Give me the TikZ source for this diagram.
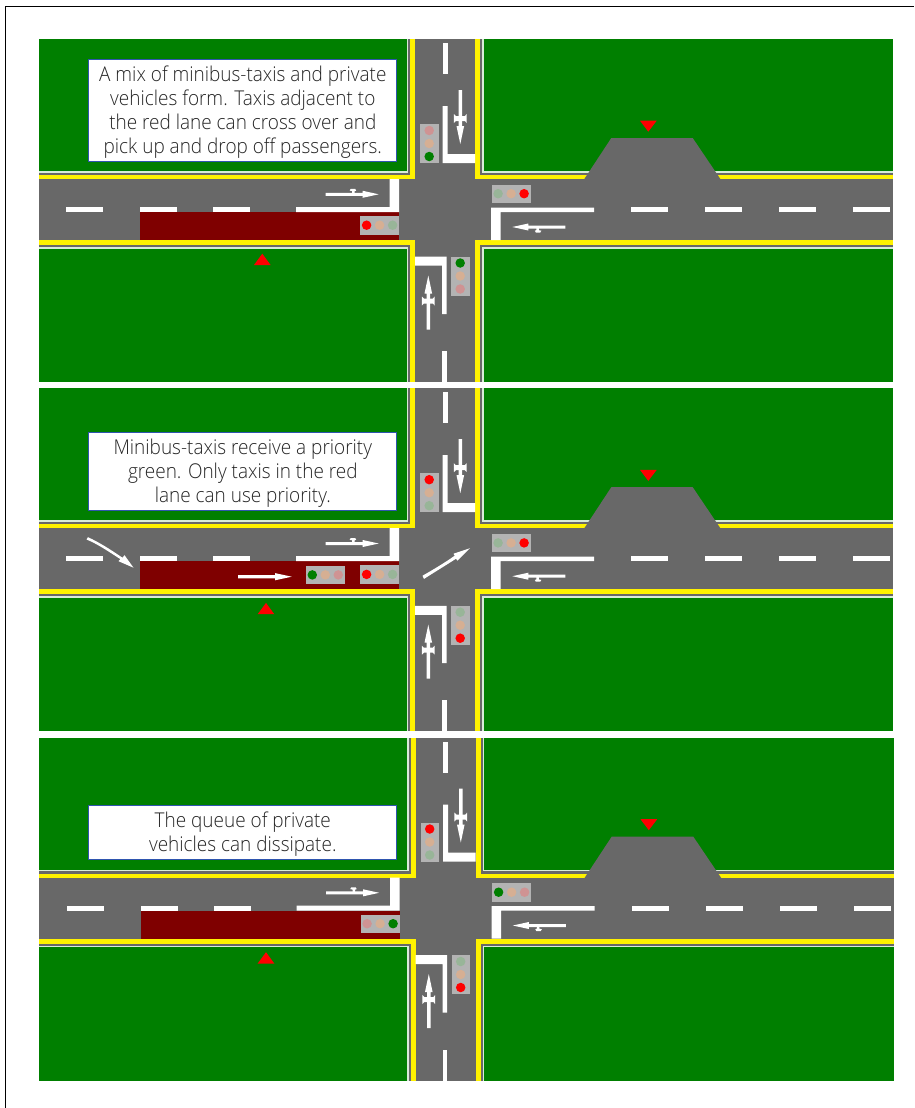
\documentclass[tikz,border=0pt]{standalone}
\usepackage{fontspec}
\setmainfont{Open Sans Light}[FakeStretch=0.93]
\usetikzlibrary{positioning,arrows.meta}
\definecolor{roadgray}{HTML}{686868}
\definecolor{verge}{HTML}{007F00}
\definecolor{buslane}{HTML}{7F0000}
\definecolor{dimred}{HTML}{CF9393}
\definecolor{dimamber}{HTML}{D6AF93}
\definecolor{dimgreen}{HTML}{98B598}
\definecolor{signalbox}{HTML}{B3B3B3}
\definecolor{notice}{HTML}{2F55AF}
\tikzset{
  infobox/.style={draw=notice,line width=0.8pt,fill=white,minimum width=308pt,inner sep=0pt,align=center,text=black!85,font=\fontsize{20.4}{24}\selectfont},
  lamp/.style={circle,fill=#1,inner sep=0pt,minimum size=9.5pt},
  curb/.style={fill=yellow},
  paint/.style={fill=white},
  marker/.style={fill=red}
}
\newcommand{\notetop}{\rule{0pt}{19pt}}
% lane arrow with a small side mark, drawn towards +x
\newcommand{\turnarrow}{%
  \fill[white] (0,-1.5) -- (37,-1.5) -- (37,-3.5) -- (53,0) -- (37,3.5) -- (37,1.5) -- (0,1.5) -- cycle;
  \fill[white] (26.5,-1) -- (26.5,-3.2) -- (24,-3.7) -- (25,-5.5) -- (29.5,-5.5) -- (30.5,-3.7) -- (29,-3.2) -- (29,-1) -- cycle;
}
% lane arrow with marks on both sides
\newcommand{\crossarrow}{%
  \fill[white] (0,-1.8) -- (36,-1.8) -- (36,-3.8) -- (54,0) -- (36,3.8) -- (36,1.8) -- (0,1.8) -- cycle;
  \fill[white] (24,-6.4) -- (26,-4.5) -- (26,4.5) -- (24,6.4) -- (33,6.4) -- (31,4.5) -- (31,-4.5) -- (33,-6.4) -- cycle;
}
% signal heads, one colour per lamp
\newcommand{\signalv}[5]{%
  \fill[signalbox] (#1,#2) rectangle ++(18.5,39);
  \node[lamp=#3] at (#1+9.2,#2+6.5) {};
  \node[lamp=#4] at (#1+9.2,#2+19.5) {};
  \node[lamp=#5] at (#1+9.2,#2+32.5) {};
}
\newcommand{\signalh}[5]{%
  \fill[signalbox] (#1,#2) rectangle ++(39,18.5);
  \node[lamp=#3] at (#1+6.6,#2+9.2) {};
  \node[lamp=#4] at (#1+19.6,#2+9.2) {};
  \node[lamp=#5] at (#1+32.6,#2+9.2) {};
}
% one junction, drawn at the position of the top panel; #1 = x of the lane marker
\newcommand{\junction}[1]{%
  \fill[roadgray] (38.5,39) rectangle (893,382);
  % kerbs
  \fill[curb] (38.5,39) rectangle (415,179);
  \fill[curb] (475,39) rectangle (893,179);
  \fill[curb] (38.5,240) rectangle (415,382);
  \fill[curb] (475,240) rectangle (893,382);
  % verges
  \fill[roadgray] (38.5,39) rectangle (410,175);
  \fill[roadgray] (480,39) rectangle (893,175);
  \fill[roadgray] (38.5,245) rectangle (410,382);
  \fill[roadgray] (480,245) rectangle (893,382);
  \fill[white!85!verge] (38.5,39) rectangle (408,172.5);
  \fill[white!85!verge] (482,39) rectangle (893,172.5);
  \fill[white!85!verge] (38.5,247) rectangle (408,382);
  \fill[white!85!verge] (482,247) rectangle (893,382);
  \fill[verge] (38.5,39) rectangle (406.5,171);
  \fill[verge] (483.5,39) rectangle (893,171);
  \fill[verge] (38.5,248.5) rectangle (406.5,382);
  \fill[verge] (483.5,248.5) rectangle (893,382);
  % bus lane and bay
  \fill[buslane] (140,212) rectangle (399,240);
  \fill[roadgray] (611.3,138) -- (692.7,138) -- (720.7,179.5) -- (584,179.5) -- cycle;
  \fill[marker] (#1-8.3,265) -- (#1,253.7) -- (#1+8.3,265) -- cycle;
  \fill[marker] (640,120.7) -- (656.7,120.7) -- (648.3,131.7) -- cycle;
  % road markings
  \foreach \x in {66,140,213,631,705,779,853} \fill[paint] (\x,207) rectangle ++(37,5);
  \fill[paint] (296,207) -- (389.5,207) -- (389.5,179) -- (399,179) -- (399,212) -- (296,212) -- cycle;
  \fill[paint] (594,207.5) -- (491,207.5) -- (491,240) -- (500.5,240) -- (500.5,212) -- (594,212) -- cycle;
  \fill[paint] (442.7,43) rectangle (447.7,74);
  \fill[paint] (442.7,106) -- (447.7,106) -- (447.7,154) -- (475,154) -- (475,163) -- (442.7,163) -- cycle;
  \fill[paint] (415,256.7) -- (446.7,256.7) -- (446.7,314) -- (442,314) -- (442,265.7) -- (415,265.7) -- cycle;
  \fill[paint] (442,351) rectangle (446.7,382);
  % lane arrows
  \begin{scope}[shift={(325.7,194.3)}]\turnarrow\end{scope}
  \begin{scope}[shift={(565.3,227)},xscale=-1,yscale=-1]\turnarrow\end{scope}
  \begin{scope}[shift={(460.3,90)},rotate=-90]\crossarrow\end{scope}
  \begin{scope}[shift={(428.3,329.5)},rotate=90]\crossarrow\end{scope}
}
\begin{document}
\begin{tikzpicture}[x=1pt,y=-1pt]
\useasboundingbox (0,0) rectangle (914,1108);
\draw[black,line width=1.2pt] (5.5,1108) -- (5.5,6.5) -- (914,6.5);
% first phase
\junction{262.3}
\signalv{420}{124}{dimred}{dimamber}{verge}
\signalh{491.5}{184.5}{dimgreen}{dimamber}{red}
\signalh{360}{216}{red}{dimamber}{dimgreen}
\signalv{451}{256.5}{verge}{dimamber}{dimred}
\node[infobox,minimum height=102pt] (firstnote) at (242.8,110.2) {\notetop A mix of minibus-taxis and private\\vehicles form. Taxis adjacent to\\the red lane can cross over and\\pick up and drop off passengers.};
% second phase
\begin{scope}[shift={(0,349.2)}]
\junction{266}
\signalv{420}{124}{red}{dimamber}{dimgreen}
\signalh{491.5}{184.5}{dimgreen}{dimamber}{red}
\signalh{360}{216}{red}{dimamber}{dimgreen}
\signalh{305.7}{216.5}{verge}{dimamber}{dimred}
\signalv{451}{256.5}{dimgreen}{dimamber}{red}
\begin{scope}[shift={(238,227.5)}]
\fill[white] (0,-1.6) -- (37,-1.6) -- (37,-3.6) -- (53.7,0) -- (37,3.6) -- (37,1.6) -- (0,1.6) -- cycle;
\end{scope}
\fill[white] (86.5,190.3) .. controls (98,195) and (108,202) .. (120.5,210) -- (118.5,212) -- (133.5,218.5) -- (124.5,206) -- (122.5,208.5) .. controls (110,200) and (99,193) .. (88,188) -- cycle;
\fill[white] (424,229.7) .. controls (436,222) and (446,216) .. (456,209.5) -- (457.5,211.5) -- (470,199) -- (453.5,204.5) -- (454.7,206.5) .. controls (444,214) and (434,220) .. (422.5,226.5) -- cycle;
\node[infobox,minimum height=78pt] (secondnote) at (242.8,122) {\notetop Minibus-taxis receive a priority\\green. Only taxis in the red\\lane can use priority.};
\end{scope}
% third phase
\begin{scope}[shift={(0.5,698.5)}]
\junction{265.5}
\signalv{420}{124}{red}{dimamber}{dimgreen}
\signalh{491.5}{184.5}{verge}{dimamber}{dimred}
\signalh{360}{216}{dimred}{dimamber}{verge}
\signalv{451}{256.5}{dimgreen}{dimamber}{red}
\node[infobox,minimum height=54pt] (thirdnote) at (242.3,133.5) {\notetop The queue of private\\vehicles can dissipate.};
\end{scope}
% gaps between the phases
\fill[white] (38,382) rectangle (893.5,388);
\fill[white] (38,731.2) rectangle (893.5,737.5);
\end{tikzpicture}
\end{document}
